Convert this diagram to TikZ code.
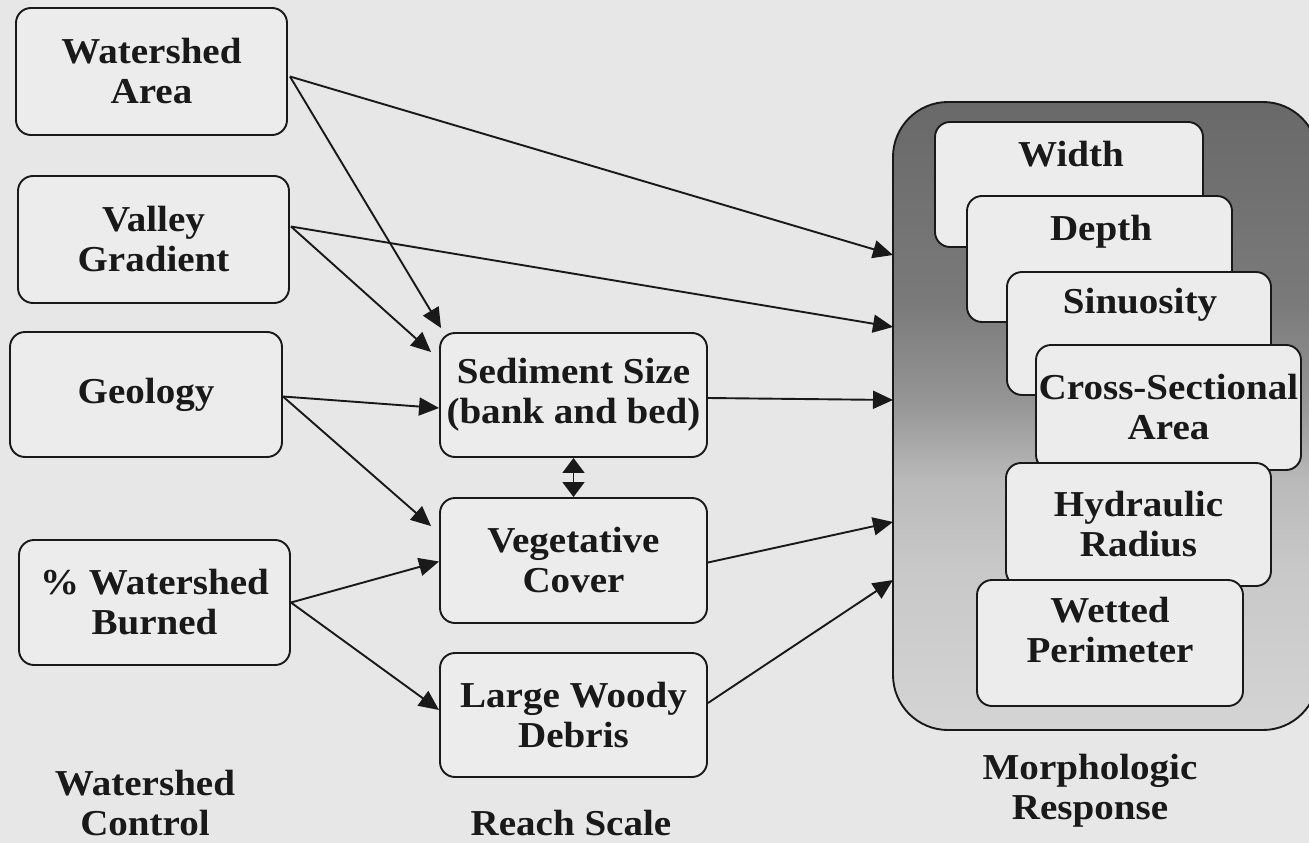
\documentclass[tikz,border=0pt]{standalone}
\usepackage{fontspec}
\setmainfont{Liberation Serif}[FakeStretch=1.07]
\usetikzlibrary{arrows.meta,calc}
\definecolor{bg}{RGB}{231,231,231}
\definecolor{boxfill}{RGB}{236,236,236}
\definecolor{ink}{RGB}{25,25,25}
\definecolor{gA}{RGB}{105,105,105}
\definecolor{gB}{RGB}{122,122,122}
\definecolor{gC}{RGB}{150,150,150}
\definecolor{gD}{RGB}{185,185,185}
\definecolor{gE}{RGB}{200,200,200}
\definecolor{gF}{RGB}{212,212,212}
\pgfdeclareverticalshading{morphshade}{100bp}{color(0bp)=(gF); color(25bp)=(gF); color(38bp)=(gE); color(45bp)=(gD); color(51bp)=(gC); color(59bp)=(gB); color(75bp)=(gA); color(100bp)=(gA)}
\tikzset{
  boxfont/.style={font=\fontsize{36.5}{40}\selectfont\bfseries},
  rbox/.style={draw=ink, line width=1.9pt, fill=boxfill, rounded corners=15pt,
    inner sep=2pt, align=center, text=ink, boxfont},
  lbl/.style={align=center, text=ink, inner sep=0pt, boxfont},
  arr/.style={draw=ink, line width=1.9pt, -{Triangle[length=20pt,width=18pt]}},
  darr/.style={draw=ink, line width=1.9pt, {Triangle[length=15pt,width=22pt]}-{Triangle[length=15pt,width=22pt]}},
}
\begin{document}
\begin{tikzpicture}[x=1pt,y=-1pt]
\useasboundingbox (0,0) rectangle (1309,843);
\fill[bg] (0,0) rectangle (1309,843);

% morphologic container
\node[draw=ink, line width=1.9pt, rounded corners=55pt, shade, shading=morphshade,
      minimum width=425pt, minimum height=628pt, inner sep=0pt] (morph) at (1105.5,416) {};
\coordinate (t1) at (893,255);
\coordinate (t2) at (893,327);
\coordinate (t3) at (893,400);
\coordinate (t4) at (893,522);
\coordinate (t5) at (893,580);

% stacked response boxes
\node[rbox, minimum width=268pt, minimum height=125pt] (width) at (1069,184.5) {};
\node[lbl, anchor=base] (widthT) at (1071,166) {Width};
\node[rbox, minimum width=265pt, minimum height=126pt] (depth) at (1099.5,259) {};
\node[lbl, anchor=base] (depthT) at (1101,240) {Depth};
\node[rbox, minimum width=264pt, minimum height=123pt] (sinu) at (1139,333.5) {};
\node[lbl, anchor=base] (sinuT) at (1140,313) {Sinuosity};
\node[rbox, minimum width=265pt, minimum height=125pt] (cross) at (1168.5,407.5) {Cross-Sectional\\Area};
\node[rbox, minimum width=265pt, minimum height=123pt] (hyd) at (1138.5,524.5) {Hydraulic\\Radius};
\node[rbox, minimum width=266pt, minimum height=126pt] (wet) at (1110,643) {};
\node[lbl] (wetT) at (1110,630) {Wetted\\Perimeter};

% watershed control boxes
\node[rbox, minimum width=271pt, minimum height=127pt] (wa) at (151.5,71.5) {Watershed\\Area};
\node[rbox, minimum width=271pt, minimum height=127pt] (vg) at (153.5,239.5) {Valley\\Gradient};
\node[rbox, minimum width=272pt, minimum height=125pt] (geo) at (146,394.5) {Geology};
\node[rbox, minimum width=271pt, minimum height=125pt] (burn) at (154.5,602.5) {\% Watershed\\Burned};

% reach scale boxes
\node[rbox, minimum width=267pt, minimum height=124pt] (sed) at (573.5,395) {Sediment Size\\(bank and bed)};
\node[rbox, minimum width=267pt, minimum height=125pt] (veg) at (573.5,560.5) {Vegetative\\Cover};
\node[rbox, minimum width=267pt, minimum height=124pt] (lwd) at (573.5,715) {Large Woody\\Debris};

% connectors
\draw[arr] ($(wa.east)+(2,5)$) -- (t1);
\draw[arr] ($(wa.east)+(2,5)$) -- ($(sed.north west)+(2,-4)$);
\draw[arr] ($(vg.east)+(1,-13)$) -- (t2);
\draw[arr] ($(vg.east)+(1,-13)$) -- ($(sed.north west)+(-8,20)$);
\draw[arr] ($(geo.east)+(0,2)$) -- ($(sed.west)+(0,13)$);
\draw[arr] ($(geo.east)+(0,2)$) -- ($(veg.north west)+(-8,29)$);
\draw[arr] (burn.east) -- ($(veg.west)+(0,1)$);
\draw[arr] (burn.east) -- ($(lwd.west)+(0,-5)$);
\draw[arr] ($(sed.east)+(0,3)$) -- (t3);
\draw[arr] ($(veg.east)+(0,2)$) -- (t4);
\draw[arr] ($(lwd.east)+(0,-12)$) -- (t5);
\draw[darr] (sed.south) -- (veg.north);

% column labels
\node[lbl] (wcT) at (145,803) {Watershed\\Control};
\node[lbl, anchor=base] (rsT) at (571,835) {Reach Scale};
\node[lbl] (mrT) at (1090,791) {Morphologic\\Response};
\end{tikzpicture}
\end{document}
